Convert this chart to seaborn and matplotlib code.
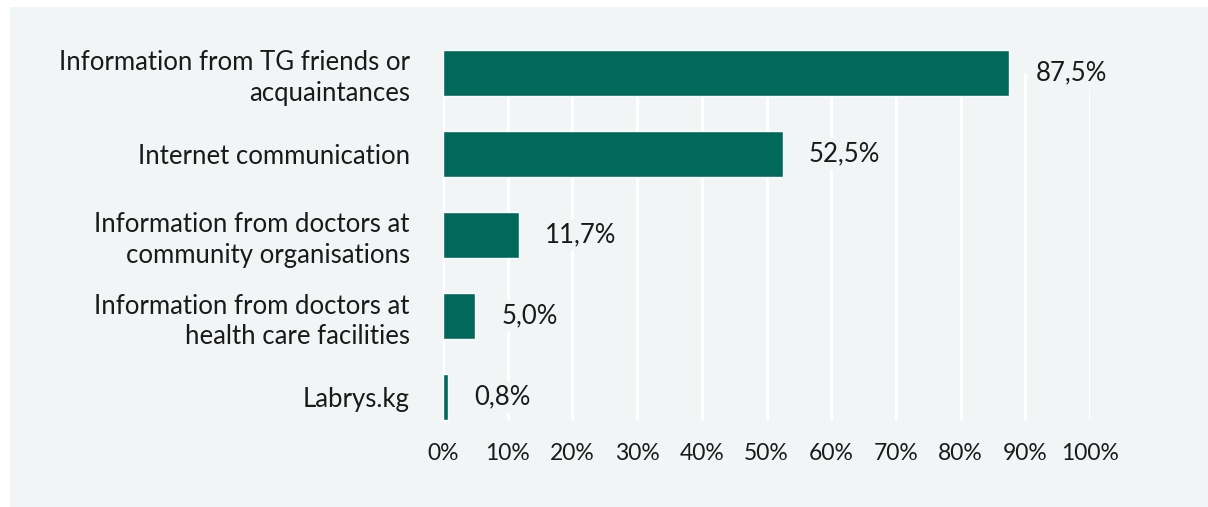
import matplotlib
matplotlib.use("Agg")
import matplotlib.pyplot as plt
from matplotlib.patches import Rectangle
import seaborn as sns
import pandas as pd

# Sources of information (share of respondents, %)
categories = [
    "Information from TG friends or\nacquaintances",
    "Internet communication",
    "Information from doctors at\ncommunity organisations",
    "Information from doctors at\nhealth care facilities",
    "Labrys.kg",
]
values = [87.5, 52.5, 11.7, 5.0, 0.8]
tick_values = [0, 10, 20, 30, 40, 50, 60, 70, 80, 90, 100]
tick_labels = [f"{v}%" for v in tick_values]

BAR = "#00695c"
PANEL = "#f2f5f6"
TEXT = "#1a1a1a"

sns.set_theme(style="white")
plt.rcParams["font.family"] = ["Lato", "DejaVu Sans"]

df = pd.DataFrame({"source": categories, "share": values})

fig = plt.figure(figsize=(12.08, 5.07), dpi=100)
fig.patch.set_facecolor("white")
# light panel behind the chart
fig.add_artist(Rectangle((10 / 1208, 0), 1198 / 1208, 500 / 507,
                         transform=fig.transFigure, facecolor=PANEL,
                         edgecolor="none", zorder=0))

ax = fig.add_axes([443 / 1208, 1 - 437.5 / 507, (1090 - 443) / 1208, 405 / 507])
ax.set_facecolor("none")

sns.barplot(data=df, x="share", y="source", orient="h", color=BAR,
            saturation=1, width=0.57, ax=ax, zorder=3)

ax.set_xlim(0, 100)
ax.set_ylim(len(categories) - 0.5, -0.5)

# white vertical gridlines from the first category centre to below the last bar
ax.vlines(tick_values, ymin=0, ymax=len(categories) - 1 + 0.285,
          colors="white", linewidth=2.2, zorder=1)

for i, v in enumerate(values):
    ax.annotate(f"{v:.1f}%".replace(".", ","), xy=(v, i), xytext=(19, 0),
                textcoords="offset points", va="center", ha="left",
                fontsize=18.5, color=TEXT, zorder=4,
                bbox=dict(boxstyle="square,pad=0.15", facecolor=PANEL,
                          edgecolor="none"))

ax.set_xticks(tick_values)
ax.set_xticklabels(tick_labels, fontsize=16.5, color=TEXT)
ax.tick_params(axis="x", length=0, pad=4)
ax.tick_params(axis="y", length=0, pad=24)
for lbl in ax.get_yticklabels():
    lbl.set_fontsize(18.5)
    lbl.set_color(TEXT)
    lbl.set_linespacing(1.3)
ax.set_xlabel("")
ax.set_ylabel("")
for s in ax.spines.values():
    s.set_visible(False)

fig.savefig("out.png", dpi=100, facecolor=fig.get_facecolor())
